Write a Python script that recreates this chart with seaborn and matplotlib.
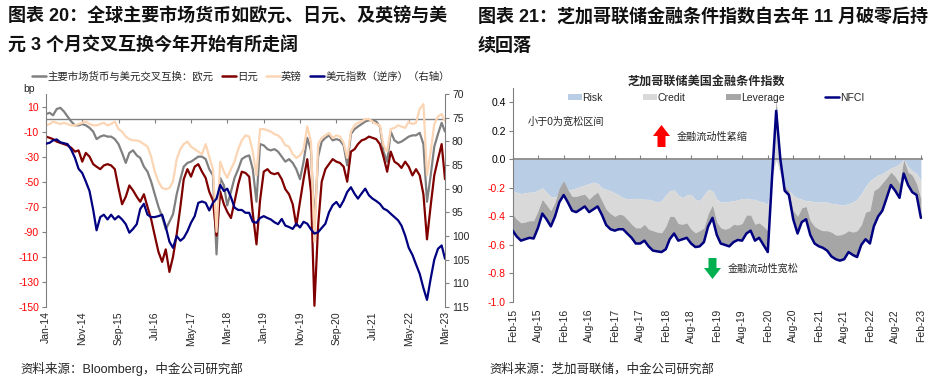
import numpy as np
import pandas as pd
import matplotlib
matplotlib.use("Agg")
import matplotlib.pyplot as plt
import matplotlib.dates as mdates
from matplotlib.patches import FancyArrow, Patch
from matplotlib.lines import Line2D
import seaborn as sns

# left chart: 3M cross-currency basis vs USD (bp), monthly Jan-14 .. Mar-23
eur = [4, 5, 3, 8, 9, 6, 2, -2, -5, -5,
       -4, -5, -7, -10, -16, -14, -13, -14, -14, -16,
       -20, -27, -35, -27, -25, -29, -31, -38, -42, -50,
       -60, -70, -78, -88, -82, -76, -60, -48, -38, -35,
       -34, -32, -30, -30, -32, -40, -45, -108, -47, -53,
       -69, -58, -47, -40, -32, -30, -29, -40, -66, -20,
       -21, -24, -25, -24, -26, -30, -34, -32, -35, -40,
       -48, -34, -15, -25, -85, -30, -18, -15, -13, -17,
       -16, -17, -21, -37, -12, -8, -6, -4, -2, -1,
       -1, -2, -6, -26, -34, -10, -17, -19, -18, -16,
       -14, -13, -13, -11, -20, -66, -45, -22, -12, -3,
       -10]
jpy = [-14, -15, -16, -18, -19, -20, -21, -23, -26, -25,
       -34, -27, -30, -36, -38, -40, -37, -36, -37, -40,
       -55, -68, -62, -53, -57, -62, -66, -60, -70, -80,
       -93, -106, -114, -104, -122, -110, -92, -70, -48, -40,
       -46, -38, -36, -42, -47, -58, -65, -93, -58, -68,
       -74, -79, -66, -52, -42, -43, -46, -75, -100, -65,
       -42, -40, -43, -44, -43, -48, -56, -60, -68, -85,
       -66, -48, -32, -58, -149, -85, -50, -40, -36, -32,
       -34, -35, -38, -50, -26, -24, -20, -17, -16, -14,
       -15, -16, -20, -30, -42, -26, -34, -36, -39, -34,
       -38, -45, -40, -45, -60, -96, -69, -45, -32, -20,
       -48]
gbp = [-5, -4, -2, -3, -4, -3, -4, -5, -5, -4,
       -3, -2, -4, -5, -5, -4, -3, -5, -4, -2,
       -8, -10, -14, -16, -17, -17, -18, -20, -22, -30,
       -42, -50, -55, -56, -55, -50, -32, -24, -20, -18,
       -22, -24, -26, -28, -20, -30, -40, -90, -34, -42,
       -47, -40, -34, -24, -17, -13, -14, -26, -45, -8,
       -8, -9, -10, -12, -13, -16, -21, -22, -28, -31,
       -29, -24, -6, -18, -98, -20, -15, -13, -11, -15,
       -13, -14, -19, -31, -10, -5, -3, -2, 0, 0,
       -2, -4, -5, -21, -26, -8, -7, -5, -6, -7,
       -2, -4, -3, 8, 12, -45, -26, -4, 2, 4,
       -2]
dxy = [80.5, 80.3, 79.8, 79.6, 80.2, 80.4, 80.6, 81.8, 83.5, 85.8,
       86.7, 88.5, 90.5, 94.5, 98.8, 96.0, 95.5, 96.5, 95.5, 96.5,
       95.8, 96.5, 97.5, 99.3, 98.5, 97.5, 94.3, 93.2, 95.5, 96.0,
       96.0, 95.8, 95.5, 98.0, 101.2, 102.5, 100.0, 101.0, 100.4, 99.0,
       97.2, 95.8, 93.0, 92.7, 93.0, 94.6, 93.0, 92.1, 89.2, 90.5,
       90.0, 91.8, 94.0, 94.5, 94.5, 95.1, 95.1, 97.0, 97.2, 96.2,
       95.8, 96.2, 96.5, 97.1, 97.5, 96.4, 97.8, 98.1, 98.5, 97.4,
       98.2, 97.0, 97.4, 98.6, 99.5, 99.2, 98.3, 97.4, 95.0, 93.5,
       92.8, 93.9, 92.5, 90.7, 89.7, 91.1, 92.1, 91.0, 90.0, 91.4,
       92.1, 92.6, 93.2, 94.2, 94.6, 95.3, 96.0, 96.7, 97.8, 99.9,
       102.5, 104.0, 106.0, 108.0, 111.0, 113.5, 109.0, 105.0, 102.7, 102.0,
       104.8]
left_labels = ['主要市场货币与美元交叉互换：欧元', '日元', '英镑', '美元指数（逆序）（右轴）']

# right chart: Chicago Fed NFCI and stacked contributions, monthly Feb-15 .. Feb-23
nfci = [-0.50, -0.54, -0.57, -0.56, -0.55, -0.555, -0.48, -0.38, -0.42, -0.47,
        -0.40, -0.30, -0.25, -0.30, -0.36, -0.37, -0.35, -0.33, -0.37, -0.35,
        -0.33, -0.39, -0.46, -0.49, -0.50, -0.49, -0.49, -0.52, -0.55, -0.59,
        -0.59, -0.57, -0.61, -0.64, -0.645, -0.65, -0.63, -0.56, -0.52, -0.57,
        -0.56, -0.55, -0.59, -0.615, -0.61, -0.58, -0.47, -0.41, -0.53, -0.59,
        -0.60, -0.61, -0.58, -0.565, -0.57, -0.52, -0.50, -0.57, -0.55, -0.60,
        -0.65, -0.15, 0.34, 0.0, -0.22, -0.25, -0.42, -0.52, -0.44, -0.42,
        -0.53, -0.59, -0.61, -0.62, -0.64, -0.68, -0.70, -0.71, -0.70, -0.65,
        -0.67, -0.685, -0.60, -0.56, -0.59, -0.47, -0.40, -0.36, -0.27, -0.18,
        -0.22, -0.27, -0.10, -0.18, -0.23, -0.25, -0.41]
risk_edge = [-0.22, -0.23, -0.24, -0.235, -0.23, -0.23, -0.215, -0.20, -0.23, -0.26,
             -0.265, -0.24, -0.22, -0.215, -0.21, -0.20, -0.19, -0.18, -0.17, -0.16,
             -0.17, -0.20, -0.21, -0.22, -0.235, -0.25, -0.27, -0.275, -0.275, -0.275,
             -0.275, -0.28, -0.28, -0.29, -0.30, -0.29, -0.25, -0.22, -0.215, -0.25,
             -0.27, -0.25, -0.245, -0.28, -0.29, -0.25, -0.21, -0.22, -0.28, -0.30,
             -0.30, -0.295, -0.29, -0.285, -0.275, -0.275, -0.28, -0.28, -0.295, -0.30,
             -0.315, -0.12, 0.0, -0.10, -0.19, -0.22, -0.25, -0.27, -0.28, -0.29,
             -0.29, -0.30, -0.30, -0.30, -0.30, -0.31, -0.31, -0.32, -0.32, -0.31,
             -0.30, -0.28, -0.24, -0.19, -0.15, -0.13, -0.11, -0.10, -0.08, -0.06,
             -0.05, -0.03, 0.0, -0.05, -0.08, -0.10, -0.15]
credit_edge = [-0.385, -0.42, -0.445, -0.44, -0.43, -0.43, -0.36, -0.28, -0.32, -0.36,
               -0.30, -0.20, -0.15, -0.21, -0.26, -0.26, -0.25, -0.245, -0.28, -0.25,
               -0.23, -0.29, -0.35, -0.38, -0.40, -0.385, -0.39, -0.42, -0.455, -0.48,
               -0.48, -0.455, -0.49, -0.50, -0.51, -0.515, -0.47, -0.40, -0.40, -0.45,
               -0.455, -0.445, -0.49, -0.515, -0.50, -0.48, -0.38, -0.32, -0.44, -0.48,
               -0.49, -0.48, -0.455, -0.46, -0.45, -0.39, -0.39, -0.455, -0.445, -0.47,
               -0.50, -0.12, 0.42, -0.02, -0.19, -0.22, -0.36, -0.40, -0.34, -0.33,
               -0.43, -0.47, -0.49, -0.50, -0.50, -0.51, -0.53, -0.53, -0.52, -0.50,
               -0.51, -0.50, -0.46, -0.37, -0.36, -0.22, -0.20, -0.165, -0.13, -0.09,
               -0.12, -0.17, 0.0, -0.09, -0.11, -0.17, -0.275]
right_labels = ['Risk', 'Credit', 'Leverage', 'NFCI']

sns.set_style('ticks')
plt.rcParams['font.family'] = ['Liberation Sans', 'Noto Sans CJK SC']
plt.rcParams['axes.unicode_minus'] = False

W, H = 942, 391
grey = '#808080'


def box(x0, y0, x1, y1):
    return [x0 / W, 1 - y1 / H, (x1 - x0) / W, (y1 - y0) / H]


fig = plt.figure(figsize=(W / 100, H / 100), dpi=100)

# ---------------- left panel
months_l = pd.date_range('2014-01-01', periods=len(eur), freq='MS')
left_colors = ['#808080', '#800000', '#FCD5B4', '#000080']

ax1 = fig.add_axes(box(46, 94, 445, 307))
ax1.axhline(0, color=grey, lw=1, zorder=1)
for vals, c in zip([eur, jpy, gbp], left_colors[:3]):
    sns.lineplot(x=months_l, y=vals, ax=ax1, color=c, lw=1.6, zorder=2)
ax1.set_ylim(-150, 20)
ax1.set_yticks(range(-150, 11, 20))
ax1.tick_params(axis='y', labelcolor='#FF0000', color=grey, length=3, labelsize=7.5, pad=2)
ax1.tick_params(axis='x', length=0, labelrotation=90, labelsize=7.5, pad=3)
for s in ['top', 'bottom', 'right']:
    ax1.spines[s].set_visible(False)
ax1.spines['left'].set_color(grey)
ax1.set_xlabel('')
ax1.set_ylabel('')

ax1r = ax1.twinx()
sns.lineplot(x=months_l, y=dxy, ax=ax1r, color=left_colors[3], lw=1.6)
ax1r.set_ylim(115, 70)
ax1r.set_yticks(range(70, 116, 5))
ax1r.tick_params(axis='y', color=grey, length=3, labelsize=7.5, pad=2)
for s in ['top', 'bottom', 'left']:
    ax1r.spines[s].set_visible(False)
ax1r.spines['right'].set_color(grey)
ax1r.set_ylabel('')

ax1.set_xlim(months_l[0], months_l[-1])
ax1.set_xticks(months_l[::10])
ax1.xaxis.set_major_formatter(mdates.DateFormatter('%b-%y'))

sec1 = ax1.secondary_xaxis(150 / 170)
sec1.set_xticks(mdates.date2num(months_l[::10]))
sec1.tick_params(direction='in', length=3, color=grey, labeltop=False, labelbottom=False)
for s in sec1.spines.values():
    s.set_visible(False)

handles = [Line2D([], [], color=c, lw=1.8) for c in left_colors]
fig.legend(handles, left_labels, loc='center', bbox_to_anchor=(241 / W, 1 - 76.5 / H),
           ncol=4, frameon=False, fontsize=7.5, handlelength=1.35, handletextpad=0.1,
           columnspacing=0.8, borderpad=0)
fig.text(29 / W, 1 - 89 / H, 'bp', ha='center', va='center', fontsize=7.5)

# ---------------- right panel
months_r = pd.date_range('2015-02-01', periods=len(nfci), freq='MS')
area_colors = ['#B9CDE5', '#D9D9D9', '#A6A6A6']

ax2 = fig.add_axes(box(512.7, 88, 923, 302))
ax2.fill_between(months_r, 0, risk_edge, color=area_colors[0], lw=0, zorder=1)
ax2.fill_between(months_r, risk_edge, credit_edge, color=area_colors[1], lw=0, zorder=1)
ax2.fill_between(months_r, credit_edge, nfci, color=area_colors[2], lw=0, zorder=1)
ax2.axhline(0, color=grey, lw=1.2, zorder=1.5)
sns.lineplot(x=months_r, y=nfci, ax=ax2, color='#000080', lw=1.8, zorder=3)
ax2.set_ylim(-1.0, 0.5)
yt = [-1.0, -0.8, -0.6, -0.4, -0.2, 0.0, 0.2, 0.4]
ax2.set_yticks(yt, labels=[f'{v:.1f}' for v in yt])
for lbl, v in zip(ax2.get_yticklabels(), yt):
    lbl.set_color('#FF0000' if v < 0 else 'black')
ax2.set_xlim(months_r[0], months_r[-1] + pd.Timedelta(days=15))
ax2.set_xticks(months_r[::6])
ax2.xaxis.set_major_formatter(mdates.DateFormatter('%b-%y'))
ax2.tick_params(axis='x', length=0, labelrotation=90, labelsize=7.5, pad=5)
ax2.tick_params(axis='y', color=grey, length=3, labelsize=7.5, pad=2)
for s in ['top', 'bottom', 'right']:
    ax2.spines[s].set_visible(False)
ax2.spines['left'].set_color(grey)
ax2.set_xlabel('')
ax2.set_ylabel('')

sec2 = ax2.secondary_xaxis(1 / 1.5)
sec2.set_xticks(mdates.date2num(months_r[::6]))
sec2.tick_params(direction='out', length=3, color=grey, labeltop=False, labelbottom=False)
for s in sec2.spines.values():
    s.set_visible(False)

rhandles = [Patch(facecolor=c, edgecolor='none') for c in area_colors]
rhandles.append(Line2D([], [], color='#000080', lw=1.8))
leg = ax2.legend(rhandles, right_labels, loc='center', bbox_to_anchor=(716 / W, 1 - 97.7 / H),
                 bbox_transform=fig.transFigure, ncol=4, frameon=False, fontsize=7.5,
                 handlelength=1.35, handleheight=0.6, handletextpad=0.05, columnspacing=3.9)

fig.text(706.5 / W, 1 - 81.7 / H, '芝加哥联储美国金融条件指数', ha='center', va='center',
         fontsize=8.7, fontweight='bold')
fig.text(528 / W, 1 - 121.3 / H, '小于0为宽松区间', va='center', fontsize=7.3)
fig.text(677 / W, 1 - 136.7 / H, '金融流动性紧缩', va='center', fontsize=7.3)
fig.text(727.7 / W, 1 - 269 / H, '金融流动性宽松', va='center', fontsize=7.3)


def block_arrow(xc, y_tail, y_tip, color):
    fig.patches.append(FancyArrow(xc / W, 1 - y_tail / H, 0, (y_tail - y_tip) / H,
                                  width=8 / W, head_width=17 / W, head_length=11 / H,
                                  length_includes_head=True, transform=fig.transFigure,
                                  color=color, lw=0))


block_arrow(661.5, 147, 125, '#FF0000')
block_arrow(712.5, 258, 279, '#00B050')

# ---------------- titles and sources
tkw = dict(fontsize=13, fontweight='bold', va='center', color='#111111')
fig.text(8 / W, 1 - 17 / H, '图表 20：全球主要市场货币如欧元、日元、及英镑与美', **tkw)
fig.text(8 / W, 1 - 46 / H, '元 3 个月交叉互换今年开始有所走阔', **tkw)
fig.text(478 / W, 1 - 17 / H, '图表 21：芝加哥联储金融条件指数自去年 11 月破零后持', **tkw)
fig.text(478 / W, 1 - 46 / H, '续回落', **tkw)
fig.text(20 / W, 1 - 369 / H, '资料来源：Bloomberg，中金公司研究部', va='center', fontsize=9)
fig.text(489 / W, 1 - 369 / H, '资料来源：芝加哥联储，中金公司研究部', va='center', fontsize=9)

fig.savefig('out.png', dpi=100, facecolor='white')
